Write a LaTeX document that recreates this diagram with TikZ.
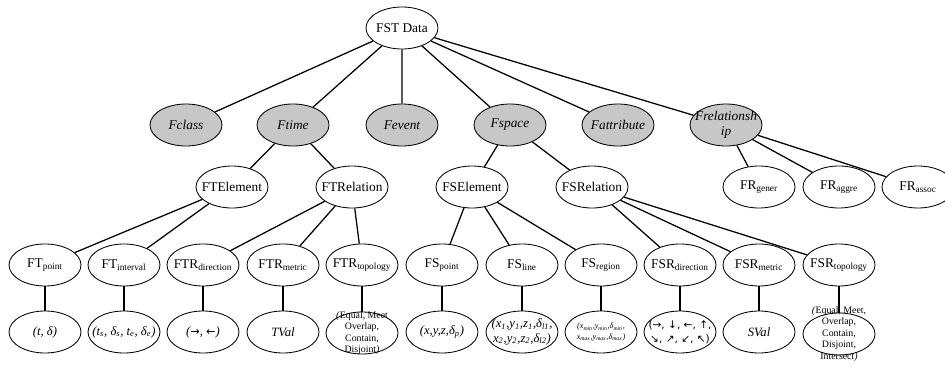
\documentclass[tikz,border=0pt]{standalone}
\usepackage{fontspec}
\setmainfont{Liberation Serif}
\newfontfamily\arrowfont{DejaVu Sans}
\usetikzlibrary{positioning, shapes}

\begin{document}
\begin{tikzpicture}[
			x = 0.025 cm,
			y = -0.025 cm,
			element/.style = {ellipse, draw, line width = 0.6 pt, inner sep = -20 pt, minimum width = 1.8 cm, minimum height = 1.05 cm, align = center, font = \fontsize{9.5}{11}\selectfont},
			facet/.style = {element, fill = black!22, font = \fontsize{9.5}{11}\selectfont\itshape},
			leaf/.style = {element, font = \fontsize{9}{10.5}\selectfont\itshape},
			smallleaf/.style = {element, font = \fontsize{7}{8.2}\selectfont},
			link/.style = {line width = 0.9 pt}
		]
		\useasboundingbox (0,0) rectangle (945,367);
		% root and facets
		\node[element] (data) at (402,28) {FST Data};
		\node[facet] (class) at (186,125) {Fclass};
		\node[facet] (time) at (293,125) {Ftime};
		\node[facet] (event) at (402,125) {Fevent};
		\node[facet] (space) at (510,125) {Fspace};
		\node[facet] (attribute) at (618,125) {Fattribute};
		\node[facet] (relationship) at (726,125) {Frelationsh\\ip};
		% second level
		\node[element] (telement) at (232,187) {FTElement};
		\node[element] (trelation) at (352,187) {FTRelation};
		\node[element] (selement) at (472,187) {FSElement};
		\node[element] (srelation) at (592,187) {FSRelation};
		\node[element] (rgener) at (759,187) {FR\textsubscript{gener}};
		\node[element] (raggre) at (839,187) {FR\textsubscript{aggre}};
		\node[element] (rassoc) at (918,187) {FR\textsubscript{assoc}};
		% third level
		\node[element] (tpoint) at (45,265) {FT\textsubscript{point}};
		\node[element] (tinterval) at (124,265) {FT\textsubscript{interval}};
		\node[element] (tdirection) at (203,265) {FTR\textsubscript{direction}};
		\node[element] (tmetric) at (283,265) {FTR\textsubscript{metric}};
		\node[element] (ttopology) at (362,265) {FTR\textsubscript{topology}};
		\node[element] (spoint) at (442,265) {FS\textsubscript{point}};
		\node[element] (sline) at (522,265) {FS\textsubscript{line}};
		\node[element] (sregion) at (601,265) {FS\textsubscript{region}};
		\node[element] (sdirection) at (680,265) {FSR\textsubscript{direction}};
		\node[element] (smetric) at (759,265) {FSR\textsubscript{metric}};
		\node[element] (stopology) at (839,265) {FSR\textsubscript{topology}};
		% values
		\node[leaf] (tpointval) at (45,332) {(t, δ)};
		\node[leaf] (tintervalval) at (124,332) {(t\textsubscript{s}, δ\textsubscript{s}, t\textsubscript{e}, δ\textsubscript{e})};
		\node[leaf] (tdirectionval) at (203,332) {({\upshape\arrowfont\fontsize{8}{9}\selectfont →}, {\upshape\arrowfont\fontsize{8}{9}\selectfont ←})};
		\node[leaf] (tmetricval) at (283,332) {TVal};
		\node[smallleaf] (ttopologyval) at (362,333) {\textit{(}Equal, Meet\\Overlap,\\Contain,\\Disjoint\textit{)}};
		\node[leaf] (spointval) at (442,332) {(x,y,z,δ\textsubscript{p})};
		\node[leaf] (slineval) at (522,332) {(x\textsubscript{1},y\textsubscript{1},z\textsubscript{1},δ\textsubscript{l1},\\x\textsubscript{2},y\textsubscript{2},z\textsubscript{2},δ\textsubscript{l2})};
		\node[leaf, font = \fontsize{5.8}{7.5}\selectfont\itshape] (sregionval) at (601,332) {(x\textsubscript{min},y\textsubscript{min},δ\textsubscript{min},\\x\textsubscript{max},y\textsubscript{max},δ\textsubscript{max})};
		\node[smallleaf, font = \fontsize{7.5}{10}\selectfont\arrowfont] (sdirectionval) at (680,332) {(→, ↓, ←, ↑,\\↘, ↗, ↙, ↖)};
		\node[leaf] (smetricval) at (759,332) {SVal};
		\node[smallleaf] (stopologyval) at (839,334) {\textit{(}Equal, Meet,\\Overlap,\\Contain,\\Disjoint,\\Intersect\textit{)}};
		% connectors
		\draw[link] (data) -- (class) (data) -- (time) (data) -- (event)
			(data) -- (space) (data) -- (attribute) (data) -- (relationship);
		\draw[link] (time) -- (telement) (time) -- (trelation)
			(space) -- (selement) (space) -- (srelation)
			(relationship) -- (rgener) (relationship) -- (raggre) (relationship) -- (rassoc);
		\draw[link] (telement) -- (tpoint) (telement) -- (tinterval)
			(trelation) -- (tdirection) (trelation) -- (tmetric) (trelation) -- (ttopology)
			(selement) -- (spoint) (selement) -- (sline) (selement) -- (sregion)
			(srelation) -- (sdirection) (srelation) -- (smetric) (srelation) -- (stopology);
		\draw[link] (tpoint) -- (tpointval) (tinterval) -- (tintervalval)
			(tdirection) -- (tdirectionval) (tmetric) -- (tmetricval)
			(ttopology) -- (ttopologyval) (spoint) -- (spointval)
			(sline) -- (slineval) (sregion) -- (sregionval)
			(sdirection) -- (sdirectionval) (smetric) -- (smetricval)
			(stopology) -- (stopologyval);
	\end{tikzpicture}
\end{document}
